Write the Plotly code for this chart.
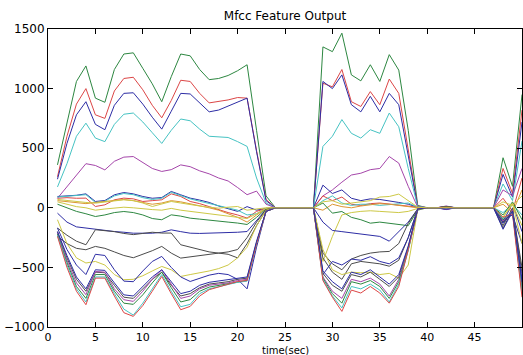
import plotly.graph_objects as go

# time axis (seconds)
T = [1, 2, 3, 4, 5, 6, 7, 8, 9, 10, 11, 12, 13, 14, 15, 16, 17, 18, 19, 20,
     21, 22, 23, 24, 25, 26, 27, 28, 29, 30, 31, 32, 33, 34, 35, 36, 37, 38, 39, 40,
     41, 42, 43, 44, 45, 46, 47, 48, 49, 50]

X_TICKS = [0, 5, 10, 15, 20, 25, 30, 35, 40, 45, 50]
Y_TICKS = [-1000, -500, 0, 500, 1000, 1500]

# MFCC coefficient tracks (one list per coefficient)
c_green = [360, 710, 1060, 1190, 920, 885, 1160, 1290, 1300, 1170, 1040, 890, 1100, 1290, 1275, 1160, 1075, 1085, 1110, 1150, 1200, 650, 100, 0,
           0, 0, 0,
           0, 1350, 1310, 1465, 1115, 1065, 1200, 1060, 1285, 1155, 650, 20, 0,
           0, 8, 0, 0, 0, 0,
           0, 420, 180, 950]
c_red = [260, 600, 870, 1000, 780, 750, 980, 1085, 1095, 990, 860, 755, 900, 1070, 1060, 960, 880, 890, 905, 925, 920, 480, 70, 0,
         0, 0, 0,
         0, 1045, 1015, 1160, 890, 850, 975, 865, 1080, 960, 500, 15, 0,
         0, -6, 0, 0, 0, 0,
         0, 330, 120, 820]
c_blue = [240, 540, 780, 890, 700, 655, 860, 960, 965, 870, 760, 660, 810, 960, 955, 880, 805, 820, 855, 890, 920, 470, 60, 0,
          0, 0, 0,
          0, 1060, 1000, 1115, 865, 805, 935, 805, 960, 865, 450, 10, 0,
          0, 12, 0, 0, 0, 0,
          0, 280, 90, 720]
c_cyan = [175, 370, 600, 710, 585, 555, 700, 785, 795, 720, 630, 540, 650, 745, 730, 660, 600, 598, 590, 555, 515, 250, 40, 0,
          0, 0, 0,
          0, 515, 600, 740, 625, 585, 655, 625, 795, 680, 330, 10, 0,
          0, -10, 0, 0, 0, 0,
          0, 200, 60, 560]
c_magenta = [80, 180, 280, 370, 355, 318, 390, 425, 430, 380, 330, 305, 320, 360, 345, 310, 285, 250, 225, 170, 110, 140, 30, 0,
             0, 0, 0,
             0, 100, 150, 215, 275, 290, 320, 330, 430, 375, 180, 5, 0,
             0, 15, 0, 0, 0, 0,
             0, 150, 100, 330]
c_blue2 = [95, 100, 105, 117, 53, 61, 109, 128, 117, 95, 80, 86, 137, 109, 81, 65, 45, 15, -5, -30, 10, -20, -5, 0,
           0, 0, 0,
           0, 190, 120, 150, 80, 60, 75, 70, 60, 45, 30, 5, 0,
           0, -15, 0, 0, 0, 0,
           0, -120, 40, -200]
c_red2 = [80, 85, 80, 81, 11, 25, 67, 81, 75, 53, 60, 67, 117, 95, 53, 35, 10, -17, -40, -60, -86, -30, -5, 0,
          0, 0, 0,
          0, 100, 60, 90, 30, 20, 35, 40, 30, 20, 10, 5, 0,
          0, 10, 0, 0, 0, 0,
          0, 80, -30, 250]
c_cyan2 = [90, 95, 100, 110, 45, 55, 100, 120, 110, 85, 70, 80, 130, 100, 75, 55, 35, 20, 0, -20, -60, -50, -5, 0,
           0, 0, 0,
           0, 60, 100, 40, 20, 30, 30, 20, 25, 30, 40, 5, 0,
           0, 5, 0, 0, 0, 0,
           0, -40, 30, -60]
c_orange = [60, 50, 40, 35, 45, 55, 65, 70, 60, 45, 30, 40, 60, 50, 35, 20, 0, -20, -50, -80, -120, -60, -10, 0,
            0, 0, 0,
            0, -20, 30, 10, 0, 15, 25, 35, 30, 20, 15, 0, 0,
            0, 0, 0, 0, 0, 0,
            0, 30, -40, 150]
c_dkgreen = [30, 0, -30, -50, -73, -60, -40, -31, -40, -60, -90, -100, -59, -70, -87, -95, -105, -115, -120, -128, -140, -80, -10, 0,
             0, 0, 0,
             0, 40, -45, -31, -80, -100, -129, -120, -130, -140, -150, -20, 0,
             0, 6, 0, 0, 0, 0,
             0, -60, 50, -100]
c_yellow2 = [50, 30, 10, 0, -20, -10, 0, 5, 0, -10, -15, -20, -5, -20, -30, -40, -50, -60, -70, -80, -90, -50, -5, 0,
             0, 0, 0,
             0, -450, -240, -60, -40, -30, -25, -30, -35, -40, -30, -5, 0,
             0, -4, 0, 0, 0, 0,
             0, -80, 30, -150]
c_blue3 = [-45, -120, -160, -170, -185, -190, -199, -205, -213, -213, -213, -205, -185, -200, -213, -215, -213, -213, -213, -205, -199, -110, -15, 0,
           0, 0, 0,
           0, -120, -190, -200, -210, -215, -225, -240, -280, -200, -120, -10, 0,
           0, -8, 0, 0, 0, 0,
           0, -100, -60, -300]
c_gray1 = [-170, -230, -280, -310, -184, -190, -200, -215, -225, -215, -205, -212, -212, -310, -330, -352, -370, -380, -390, -420, -300, -150, -20, 0,
           0, 0, 0,
           0, -380, -470, -520, -430, -400, -380, -370, -366, -300, -130, -10, 0,
           0, 6, 0, 0, 0, 0,
           0, -170, -20, -500]
c_gray2 = [-240, -300, -340, -352, -324, -340, -370, -400, -419, -390, -360, -324, -380, -422, -410, -400, -390, -380, -370, -350, -250, -120, -15, 0,
           0, 0, 0,
           0, -420, -540, -600, -470, -450, -460, -470, -490, -440, -250, -10, 0,
           0, -6, 0, 0, 0, 0,
           0, -150, 0, -550]
c_yellow3 = [-100, -300, -420, -463, -450, -480, -560, -603, -600, -570, -530, -492, -520, -576, -560, -548, -530, -510, -480, -420, -330, -150, -20, 0,
             0, 0, 0,
             0, -350, -520, -560, -540, -545, -540, -560, -550, -590, -480, -15, 0,
             0, 4, 0, 0, 0, 0,
             0, -80, 40, -300]
c_blue4 = [-170, -350, -480, -560, -390, -400, -520, -615, -620, -530, -450, -408, -500, -580, -618, -590, -565, -550, -560, -600, -680, -330, -30, 0,
           0, 0, 0,
           0, -560, -450, -480, -430, -440, -410, -450, -470, -420, -250, -10, 0,
           0, -10, 0, 0, 0, 0,
           0, -180, -30, -600]
c_black = [-200, -420, -600, -700, -540, -545, -650, -750, -760, -680, -600, -540, -650, -740, -720, -670, -640, -630, -620, -600, -590, -290, -30, 0,
           0, 0, 0,
           0, -550, -650, -700, -560, -580, -540, -600, -660, -580, -330, -10, 0,
           0, 10, 0, 0, 0, 0,
           0, -120, -40, -650]
c_magenta2 = [-210, -440, -630, -729, -534, -540, -680, -771, -785, -700, -600, -520, -640, -760, -740, -680, -650, -640, -630, -610, -600, -300, -30, 0,
              0, 0, 0,
              0, -580, -700, -760, -600, -620, -590, -640, -740, -600, -340, -10, 0,
              0, -12, 0, 0, 0, 0,
              0, -110, -20, -680]
c_green2 = [-220, -460, -660, -760, -560, -560, -700, -800, -810, -730, -630, -540, -670, -790, -770, -700, -665, -650, -640, -620, -610, -300, -30, 0,
            0, 0, 0,
            0, -590, -720, -800, -620, -640, -610, -660, -760, -620, -350, -10, 0,
            0, 8, 0, 0, 0, 0,
            0, -100, -30, -700]
c_cyan3 = [-230, -480, -680, -790, -580, -580, -720, -850, -900, -800, -680, -560, -700, -830, -810, -720, -680, -660, -640, -625, -615, -300, -30, 0,
           0, 0, 0,
           0, -600, -740, -840, -660, -680, -640, -690, -790, -640, -360, -10, 0,
           0, -5, 0, 0, 0, 0,
           0, -90, -40, -720]
c_red3 = [-240, -500, -700, -813, -590, -590, -740, -880, -911, -820, -700, -576, -720, -855, -827, -740, -687, -665, -645, -618, -610, -300, -30, 0,
          0, 0, 0,
          0, -610, -750, -869, -690, -715, -660, -715, -800, -660, -352, -10, 0,
          0, 5, 0, 0, 0, 0,
          0, -80, -50, -750]
c_blue5 = [-200, -400, -580, -680, -520, -525, -630, -730, -740, -660, -580, -520, -620, -720, -700, -650, -625, -615, -600, -590, -580, -280, -30, 0,
           0, 0, 0,
           0, -530, -620, -680, -540, -560, -520, -580, -640, -560, -320, -10, 0,
           0, -10, 0, 0, 0, 0,
           0, -130, -30, -620]
c_yellow = [70, 60, 50, 45, 39, 50, 60, 67, 60, 40, 11, 30, 53, 40, 25, 15, 5, -3, 5, 11, -20, -10, 0, 0,
            0, 0, 0,
            0, 50, 60, 30, 40, 45, 60, 90, 95, 115, 60, 5, 0,
            0, 3, 0, 0, 0, 0,
            0, 50, 20, 100]

GREEN = "rgb(45,135,65)"
RED = "rgb(220,70,70)"
BLUE = "rgb(45,45,165)"
CYAN = "rgb(70,195,195)"
MAGENTA = "rgb(165,70,170)"
YELLOW = "rgb(205,200,70)"
ORANGE = "rgb(220,150,50)"
BLACK = "rgb(75,75,75)"

series = [
    (c_green, GREEN), (c_red, RED), (c_blue, BLUE), (c_cyan, CYAN), (c_magenta, MAGENTA),
    (c_blue2, BLUE), (c_red2, RED), (c_cyan2, CYAN), (c_orange, ORANGE), (c_dkgreen, GREEN),
    (c_yellow2, YELLOW), (c_blue3, BLUE), (c_gray1, BLACK), (c_gray2, BLACK), (c_yellow3, YELLOW),
    (c_blue4, BLUE), (c_black, BLACK), (c_magenta2, MAGENTA), (c_green2, GREEN), (c_cyan3, CYAN),
    (c_red3, RED), (c_blue5, BLUE), (c_yellow, YELLOW),
]

fig = go.Figure()
for vals, col in series:
    fig.add_trace(go.Scatter(x=T, y=vals, mode="lines",
                             line=dict(color=col, width=1),
                             showlegend=False, hoverinfo="skip", cliponaxis=True))

FONT = dict(family="DejaVu Sans", size=12, color="black")
axis_common = dict(
    ticks="inside", ticklen=5, tickcolor="black", tickwidth=1,
    showline=True, linecolor="black", linewidth=1, mirror="ticks",
    showgrid=False, zeroline=False, automargin=False,
)

fig.update_layout(
    width=523, height=355,
    margin=dict(l=48, r=1, t=29, b=28, pad=0),
    paper_bgcolor="white", plot_bgcolor="white",
    title=dict(text="Mfcc Feature Output", font=FONT, x=0.5, xref="paper",
               xanchor="center", y=1 - 16 / 355, yref="container", yanchor="middle",
               automargin=False),
    xaxis=dict(range=[0, 50], tickvals=X_TICKS,
               tickfont=dict(family="DejaVu Sans", size=11, color="black"), **axis_common),
    yaxis=dict(range=[-1000, 1500], tickvals=Y_TICKS, tickfont=FONT, **axis_common),
    annotations=[dict(text="time(sec)", x=0.5, xref="paper", y=-0.058, yref="paper",
                      xanchor="center", yanchor="top", showarrow=False, borderpad=0,
                      font=dict(family="DejaVu Sans", size=10, color="black"))],
)

fig.write_html("out.html", config={"displayModeBar": False},
               post_script="document.body.style.margin='0';document.body.style.padding='0';")
